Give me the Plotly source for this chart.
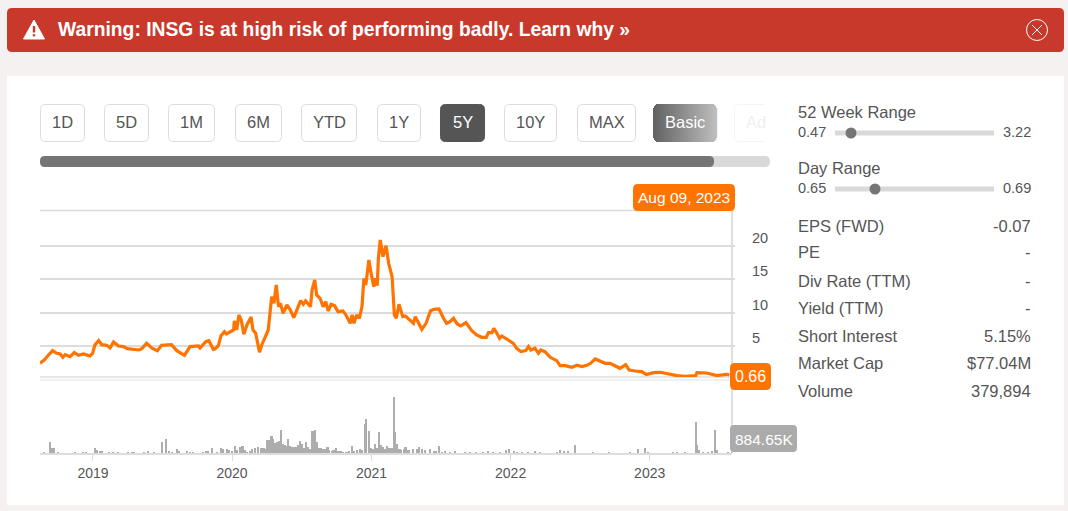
from datetime import datetime, timedelta
import plotly.graph_objects as go

W, H = 1068, 511

price_years = [2018.621,2018.650,2018.674,2018.712,2018.741,2018.765,2018.784,2018.801,2018.837,2018.868,2018.896,2018.932,2018.980,2018.999,
2019.016,2019.043,2019.064,2019.100,2019.124,2019.148,2019.184,2019.220,2019.248,2019.292,2019.332,2019.351,2019.387,2019.423,2019.464,2019.495,2019.567,2019.603,2019.658,2019.699,2019.759,2019.770,2019.811,2019.835,2019.866,2019.879,
2019.903,2019.922,2019.946,2019.960,2019.987,2020.011,2020.018,2020.035,2020.051,2020.066,2020.085,2020.109,2020.138,2020.152,2020.171,2020.198,2020.214,2020.238,2020.262,2020.286,2020.301,2020.317,2020.334,2020.348,2020.367,2020.394,2020.420,2020.444,2020.468,2020.492,2020.511,2020.530,2020.564,2020.574,2020.593,2020.607,2020.633,2020.655,2020.674,2020.689,2020.712,2020.736,2020.760,2020.796,2020.818,2020.847,2020.861,2020.875,2020.895,2020.914,2020.933,2020.947,2020.961,2020.981,2020.995,
2021.017,2021.028,2021.043,2021.052,2021.064,2021.084,2021.105,2021.124,2021.148,2021.165,2021.180,2021.199,2021.207,2021.226,2021.245,2021.264,2021.303,2021.317,2021.339,2021.363,2021.394,2021.427,2021.451,2021.485,2021.518,2021.542,2021.566,2021.590,2021.619,2021.643,2021.681,2021.722,2021.758,2021.794,2021.825,2021.842,2021.866,2021.882,2021.902,2021.921,2021.937,2021.973,2021.997,
2022.021,2022.045,2022.074,2022.112,2022.129,2022.146,2022.177,2022.201,2022.218,2022.249,2022.285,2022.333,2022.357,2022.393,2022.428,2022.442,2022.478,2022.514,2022.550,2022.578,2022.609,2022.645,2022.681,2022.717,2022.753,2022.789,2022.830,2022.854,2022.897,2022.945,2022.976,
2023.029,2023.077,2023.136,2023.196,2023.256,2023.316,2023.333,2023.340,2023.412,2023.484,2023.556,2023.575]
price_values = [2.4,2.9,3.5,4.3,3.9,3.8,3.3,3.7,3.4,4.0,3.6,3.8,3.5,3.9,
5.15,5.8,5.2,5.1,4.7,5.6,5.0,4.9,4.6,4.5,4.4,4.6,5.4,4.7,4.3,5.1,5.2,4.3,3.6,4.9,5.0,4.7,5.65,5.8,4.5,4.55,
5.05,6.55,7.15,6.8,7.15,7.4,8.75,7.4,9.65,8.9,6.75,8.15,9.35,7.4,6.9,4.05,5.15,6.25,7.4,12.4,11.4,14.15,10.9,11.4,9.9,11.15,10.4,9.25,10.4,11.8,11.25,11.75,10.9,13.4,14.9,12.65,12.15,10.9,11.65,10.25,11.25,11.05,10.15,10.25,9.65,8.4,9.65,8.4,9.65,9.15,10.9,15.15,14.15,17.9,16.15,
13.9,15.15,14.05,18.15,20.9,18.4,20.05,17.4,15.4,9.65,9.15,11.25,10.65,9.4,9.5,9.15,8.4,9.4,8.4,7.5,8.4,10.3,10.5,10.55,9.15,8.4,8.65,9.15,8.3,8.0,8.5,7.3,6.65,6.3,6.3,7.0,7.0,7.65,6.9,6.15,6.5,6.0,5.65,
5.4,4.65,4.15,4.3,4.9,4.4,4.65,3.9,4.4,4.15,3.3,2.8,2.05,2.05,1.9,1.8,2.1,1.9,2.1,2.4,3.05,2.75,2.4,2.4,2.05,1.65,2.2,1.4,1.25,1.15,0.7,
1.0,1.05,0.8,0.55,0.45,0.5,0.55,1.0,0.95,0.55,0.75,0.66]

volume_years = [2018.650,2018.693,2018.708,2018.722,2018.753,2018.871,2018.933,2018.952,2019.017,2019.034,2019.053,2019.065,2019.113,2019.149,2019.184,2019.256,2019.280,2019.297,2019.369,2019.398,2019.443,2019.496,2019.525,2019.549,2019.568,2019.604,2019.62,2019.676,2019.704,2019.724,2019.795,2019.815,2019.831,2019.860,2019.891,2019.920,2019.939,2019.963,2019.980,
2020.002,2020.023,2020.040,2020.059,2020.078,2020.095,2020.112,2020.131,2020.150,2020.169,2020.189,2020.208,2020.227,2020.241,2020.256,2020.270,2020.285,2020.299,2020.313,2020.328,2020.342,2020.354,2020.366,2020.381,2020.395,2020.405,2020.419,2020.433,2020.448,2020.462,2020.477,2020.491,2020.505,2020.520,2020.534,2020.549,2020.563,2020.580,2020.599,2020.611,2020.625,2020.640,2020.654,2020.669,2020.688,2020.702,2020.717,2020.731,2020.750,2020.767,2020.784,2020.798,
2020.825,2020.844,2020.864,2020.878,2020.897,2020.921,2020.935,2020.955,2020.964,2020.983,2020.998,2021.012,2021.026,2021.041,2021.055,2021.070,2021.084,2021.098,2021.113,2021.127,2021.146,2021.163,2021.175,2021.189,2021.204,2021.218,2021.233,2021.247,2021.261,2021.276,
2021.303,2021.327,2021.346,2021.363,2021.387,2021.423,2021.447,2021.466,2021.487,2021.506,2021.530,2021.566,2021.602,2021.674,2021.710,2021.753,2021.806,2021.842,2021.878,2021.926,2021.969,2021.993,
2022.022,2022.046,2022.081,2022.129,2022.177,2022.213,2022.333,2022.357,2022.381,2022.417,2022.465,2022.597,2022.712,2022.860,2022.920,2022.968,2022.992,
2023.172,2023.200,2023.255,2023.332,2023.344,2023.358,2023.387,2023.423,2023.447,2023.471,2023.483,2023.567,2023.591]
volume_millions = [0.8,5.5,2.5,2.5,0.5,0.7,0.7,0.7,2.8,1.7,1.3,1.3,0.7,0.7,0.7,0.7,0.7,0.7,0.7,1.3,0.7,5.5,7,1.3,0.8,2,1.3,1.2,0.8,0.8,0.5,1.3,1.3,2.7,0.8,2.5,2.2,2.3,1.7,
1,3.5,1.5,3.3,3.5,1.8,0.8,1.3,2,2.5,3.2,2.5,2.8,2.2,6.8,6.8,8.8,7,5.3,5.5,6,11.5,4.8,4.2,3.8,7,3.5,3.3,3.2,3,4,6,4.5,2.5,5.5,3,2,11,11.7,5.5,2.5,2.5,2.3,2.3,3.3,1.5,1,1.5,2.7,1,1.2,0.5,
0.3,1,3.8,1.2,1.8,2.3,1.5,14.5,17.2,11,2.5,2,4.5,2.5,10.8,4,3,2,3.5,2.8,2.7,28,10.5,4.5,2,1.8,2,3,1.5,1.7,
2,2,3.3,2,1.7,2,1.3,1.3,3.7,0.8,1.3,0.8,1.3,0.7,0.7,0.7,0.8,1.2,0.8,0.8,1.7,2,
1.3,0.8,0.8,0.5,1,0.8,0.8,1.7,1.3,1.2,4.2,0.8,0.7,0.8,2,2.8,0.8,
0.7,0.8,0.8,15.8,4.2,1.7,0.7,0.8,1.3,11.7,1.7,0.8,0.8]

range_buttons = ["1D","5D","1M","6M","YTD","1Y","5Y","10Y","MAX"]
stat_labels = ["EPS (FWD)","PE","Div Rate (TTM)","Yield (TTM)","Short Interest","Market Cap","Volume"]
stat_values = ["-0.07","-","-","-","5.15%","$77.04M","379,894"]
year_ticks = [2019,2020,2021,2022,2023]
price_ticks = [5,10,15,20]

def to_date(y):
    yr = int(y)
    start = datetime(yr,1,1)
    return (start + timedelta(days=(y-yr)*(datetime(yr+1,1,1)-start).days)).strftime("%Y-%m-%d")

FONT = "Liberation Sans"
TXT = "#555555"
ORANGE = "#ff7300"
GRID = "#dcdcdc"

def px(x): return x/W
def py(y): return 1-y/H

shapes, annos = [], []

def rrect(x0,y0,x1,y1,r=4,fill=None,line=None,lw=1,layer="below"):
    X0,X1,Y0,Y1 = x0,x1,y0,y1
    pts = [("M",X0+r,Y0),("L",X1-r,Y0),("Q",X1,Y0,X1,Y0+r),("L",X1,Y1-r),("Q",X1,Y1,X1-r,Y1),
           ("L",X0+r,Y1),("Q",X0,Y1,X0,Y1-r),("L",X0,Y0+r),("Q",X0,Y0,X0+r,Y0)]
    d = ""
    for p in pts:
        if p[0]=="Q":
            d += f"Q{px(p[1]):.5f},{py(p[2]):.5f} {px(p[3]):.5f},{py(p[4]):.5f} "
        else:
            d += f"{p[0]}{px(p[1]):.5f},{py(p[2]):.5f} "
    shapes.append(dict(type="path",xref="paper",yref="paper",path=d+"Z",fillcolor=fill or "rgba(0,0,0,0)",
                       line=dict(color=line or "rgba(0,0,0,0)",width=lw if line else 0),layer=layer))

def rect(x0,y0,x1,y1,fill,layer="below"):
    shapes.append(dict(type="rect",xref="paper",yref="paper",x0=px(x0),x1=px(x1),y0=py(y1),y1=py(y0),
                       fillcolor=fill,line=dict(width=0),layer=layer))

def hline(x0,x1,y,color,w=1,layer="below",y2=None):
    shapes.append(dict(type="line",xref="paper",yref="paper",x0=px(x0),x1=px(x1),y0=py(y),y1=py(y if y2 is None else y2),
                       line=dict(color=color,width=w),layer=layer))

def circle(cx,cy,r,fill=None,line=None,lw=1,layer="below"):
    shapes.append(dict(type="circle",xref="paper",yref="paper",x0=px(cx-r),x1=px(cx+r),y0=py(cy+r),y1=py(cy-r),
                       fillcolor=fill or "rgba(0,0,0,0)",line=dict(color=line or "rgba(0,0,0,0)",width=lw if line else 0),layer=layer))

def text(x,y,s,size=16.5,color=TXT,anchor="left",bold=False):
    annos.append(dict(xref="paper",yref="paper",x=px(x),y=py(y),text=f"<b>{s}</b>" if bold else s,showarrow=False,
                      xanchor=anchor,yanchor="middle",font=dict(family=FONT,size=size,color=color),borderpad=0,borderwidth=0))

# page card + banner
rect(7,76,1064,505,"#ffffff")
rrect(7,8,1064,52,r=5,fill="#c8392c")
text(58,29.5,"Warning: INSG is at high risk of performing badly. Learn why »",19.3,"#ffffff",bold=True)
shapes.append(dict(type="path",xref="paper",yref="paper",
    path=f"M{px(34):.5f},{py(20):.5f} L{px(44.5):.5f},{py(39):.5f} L{px(23.5):.5f},{py(39):.5f} Z",
    fillcolor="#ffffff",line=dict(color="#ffffff",width=1),layer="below"))
hline(34,34,26,"#c8392c",2.4,y2=32.5)
hline(34,34,34.2,"#c8392c",2.4,y2=36.4)
circle(1037,30,10.5,line="#ffffff",lw=1)
hline(1032,1042,25,"#ffffff",1,y2=35)
hline(1032,1042,35,"#ffffff",1,y2=25)

# range buttons
btn_x = [(40,85),(104,149),(168,215),(235,282),(301,357),(377,421),(440,485),(504,557),(577,636)]
for lab,(a,b) in zip(range_buttons,btn_x):
    active = lab=="5Y"
    rrect(a+.5,104.5,b-.5,141.5,r=5,fill="#555555" if active else "#ffffff",line="#555555" if active else "#dcdcdc",lw=1)
    text((a+b)/2,122,lab,16.5,"#ffffff" if active else TXT,anchor="center")
# Basic gradient, with its corners rounded by shortening the end strips
n = 64
corner = {0:4,1:2,2:1,61:1,62:2,63:4}
for i in range(n):
    t = i/(n-1)
    c = int(0x62+(0xbe-0x62)*t)
    d = corner.get(i,0)
    rect(653+i,104+d,654.2+i,142-d,f"rgb({c},{c},{c})")
text(685,122,"Basic",16.5,"#ffffff",anchor="center")
rrect(734.5,104.5,775,141.5,r=5,fill="#ffffff",line="#f4f4f4")
text(746,122,"Ad",16.5,"#efefef")
rect(765,103,778,143,"#ffffff")
# progress bar
rrect(40,156,770,167,r=5,fill="#d9d9d9")
rrect(40,156,714,167,r=5,fill="#757575")

# right panel
text(798,112.5,"52 Week Range")
text(798,131.5,"0.47",14.5)
text(1031,131.5,"3.22",14.5,anchor="right")
rect(835,130.5,994,135.5,"#d9d9d9")
circle(851,133,5.5,fill="#757575")
text(798,168.5,"Day Range")
text(798,187.5,"0.65",14.5)
text(1031,187.5,"0.69",14.5,anchor="right")
rect(835,186.5,994,191.5,"#d9d9d9")
circle(875,189,5.5,fill="#757575")
stat_y = [225.5,252.5,280.5,307.5,335.5,362.5,390.5]
for lab,val,y in zip(stat_labels,stat_values,stat_y):
    text(798,y,lab)
    text(1031,y,val,anchor="right")

# chart frame
hline(40,734,210.5,GRID,1.5)
hline(40,734,377,GRID,1.5)
hline(40,732,380,"#ebebeb",1.5)
hline(732,732,210,"#d4d4d4",1.5,y2=453)

# badges (above traces)
rrect(633,184,735,211,r=5,fill=ORANGE,layer="above")
text(684,197.5,"Aug 09, 2023",15.5,"#ffffff",anchor="center")
rrect(730,363,771,390,r=5,fill=ORANGE,layer="above")
text(750.5,376.5,"0.66",16,"#ffffff",anchor="center")
rrect(730,425,797,452,r=4,fill="#ababab",layer="above")
text(763.5,439.5,"884.65K",15.5,"#ffffff",anchor="center")

# price axis labels sit above their gridlines
for v in price_ticks:
    annos.append(dict(xref="paper",yref="y",x=px(750),y=v,text=str(v),showarrow=False,xanchor="left",yanchor="middle",
                      yshift=8,font=dict(family=FONT,size=14.5,color=TXT)))

DAY = 86400000
bar_widths = [(4.5 if 2020 <= y < 2021.3 else 3.0)*DAY for y in volume_years]

fig = go.Figure()
fig.add_trace(go.Bar(x=[to_date(v) for v in volume_years],y=volume_millions,yaxis="y2",
                     marker=dict(color="#adadad",line=dict(width=0)),width=bar_widths,name="Volume"))
fig.add_trace(go.Scatter(x=[to_date(v) for v in price_years],y=price_values,mode="lines",
                         line=dict(color=ORANGE,width=3.2),name="Price"))

fig.update_layout(
    width=W,height=H,margin=dict(l=0,r=0,t=0,b=0),autosize=False,
    paper_bgcolor="#f5f1f0",plot_bgcolor="rgba(0,0,0,0)",showlegend=False,
    font=dict(family=FONT,size=14,color=TXT),
    bargap=0,
    shapes=shapes,annotations=annos,
    xaxis=dict(domain=[px(40),px(732)],anchor="y2",type="date",
               range=[to_date(2018.621),to_date(2023.594)],
               tickvals=[f"{y}-01-01" for y in year_ticks],ticktext=[str(y) for y in year_ticks],
               ticks="outside",ticklen=6,tickcolor=GRID,tickwidth=1,
               showgrid=False,showline=True,linecolor="#dddddd",linewidth=2,zeroline=False,
               tickfont=dict(family=FONT,size=14,color=TXT)),
    yaxis=dict(domain=[py(377),py(210)],range=[0.345,25.4],side="right",anchor="x",
               tickvals=price_ticks,showticklabels=False,
               showgrid=True,gridcolor=GRID,gridwidth=1.5,zeroline=False,showline=False,
               ticks="outside",ticklen=2,tickcolor=GRID,tickwidth=1.5),
    yaxis2=dict(domain=[py(453.3),py(396)],range=[0,28.65],anchor="x",showgrid=False,zeroline=False,
                showticklabels=False,ticks=""),
)
fig.write_html("out.html",config=dict(displayModeBar=False),post_script="document.body.style.margin='0';")
